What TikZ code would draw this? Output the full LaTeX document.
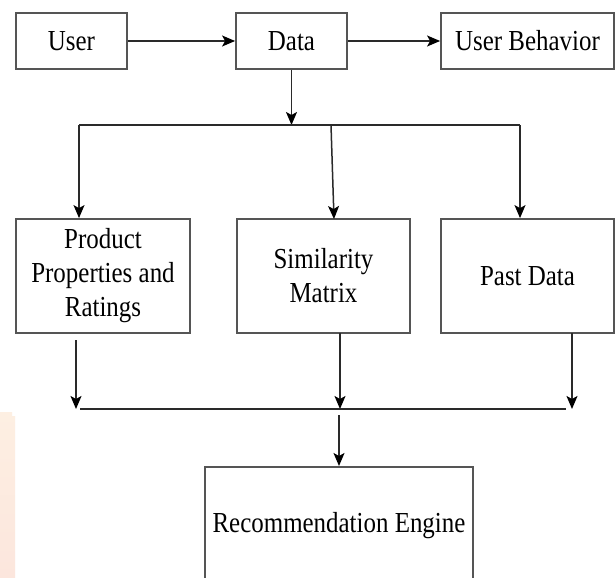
\documentclass[tikz,border=0pt]{standalone}
\usepackage{fontspec}
\setmainfont{Liberation Serif}[FakeStretch=0.86]
\usetikzlibrary{arrows.meta}
\definecolor{boxline}{HTML}{555555}
\definecolor{conline}{HTML}{2A2A2A}
\definecolor{peachtop}{HTML}{FDEFE2}
\definecolor{peachbot}{HTML}{FCE6DD}
\begin{document}
\begin{tikzpicture}[x=1pt,y=-1pt,
  box/.style={draw=boxline,line width=1.8pt,fill=white,inner sep=0pt,align=center,
    font=\fontsize{29}{34}\selectfont},
  conn/.style={draw=conline,line width=1.5pt,-{Stealth[length=13pt,width=11pt,inset=3pt,black]}},
  plain/.style={draw=conline,line width=1.5pt}]
\clip (0,0) rectangle (616,578);
\fill[white] (0,0) rectangle (616,578);
\shade[top color=peachtop,bottom color=peachbot] (0,412) -- (12,412) -- (12,416) -- (15,416) -- (15,578) -- (0,578) -- cycle;
% top row
\node[box,minimum width=111pt,minimum height=56pt] (user) at (71.5,41) {User};
\node[box,minimum width=111pt,minimum height=56pt] (data) at (291.5,41) {Data};
\node[box,minimum width=173pt,minimum height=56pt] (ub) at (527.5,41) {User Behavior};
% middle row
\node[box,minimum width=174pt,minimum height=114pt] (prod) at (103,276) {Product\\Properties and\\Ratings};
\node[box,minimum width=173pt,minimum height=114pt] (sim) at (323.5,276) {Similarity\\Matrix};
\node[box,minimum width=173pt,minimum height=114pt] (past) at (527.5,276) {Past Data};
% bottom box
\node[box,anchor=north,minimum width=268pt,text height=65.6pt,text depth=54.4pt] (rec) at (339,466) {Recommendation Engine};
% junction coordinates
\coordinate (j1) at (291.5,125);
\coordinate (hl) at (79,125);
\coordinate (hr) at (520,125);
\coordinate (m1) at (331,125);
\coordinate (m2) at (334,219);
\coordinate (pa) at (76,340);
\coordinate (pb) at (76,409);
\coordinate (sa) at (340,333);
\coordinate (sb) at (340,409);
\coordinate (qa) at (572,333);
\coordinate (qb) at (572,409);
\coordinate (bl) at (80,409);
\coordinate (br) at (566,409);
\coordinate (ra) at (339,415);
% connectors
\draw[conn] (user) -- (data);
\draw[conn] (data) -- (ub);
\draw[conn] (data.south) -- (j1);
\draw[plain] (hl) -- (hr);
\draw[conn] (hl) -- (hl |- prod.north);
\draw[conn] (m1) -- (m2);
\draw[conn] (hr) -- (hr |- past.north);
\draw[conn] (pa) -- (pb);
\draw[conn] (sa) -- (sb);
\draw[conn] (qa) -- (qb);
\draw[plain] (bl) -- (br);
\draw[conn] (ra) -- (rec.north);
\end{tikzpicture}
\end{document}
